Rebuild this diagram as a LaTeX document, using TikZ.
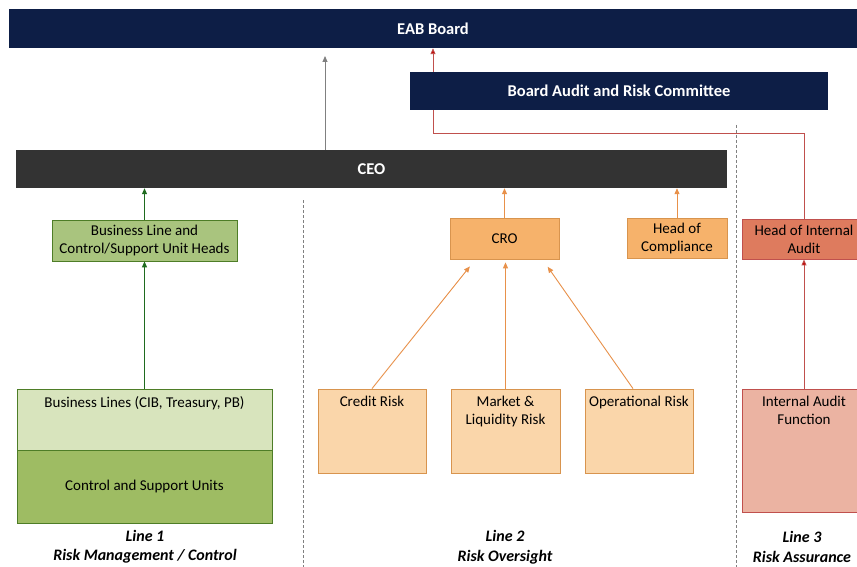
\documentclass[tikz,border=0pt]{standalone}
\usepackage{fontspec}
\setmainfont{Carlito}
\usetikzlibrary{arrows.meta,calc}

\definecolor{navy}{HTML}{0D1E46}
\definecolor{ceogrey}{HTML}{333333}
\definecolor{olive}{HTML}{A9C47E}
\definecolor{olivedark}{HTML}{4E7D27}
\definecolor{lightolive}{HTML}{D8E4BD}
\definecolor{midolive}{HTML}{9EBC63}
\definecolor{greenarr}{HTML}{1F6B1F}
\definecolor{tan}{HTML}{F6B26B}
\definecolor{tanborder}{HTML}{D8944E}
\definecolor{lighttan}{HTML}{FAD6AA}
\definecolor{orangearr}{HTML}{E8914A}
\definecolor{salmon}{HTML}{DE7B5E}
\definecolor{lightsalmon}{HTML}{EBB3A2}
\definecolor{brick}{HTML}{C0504D}
\definecolor{redarr}{HTML}{C00000}

\tikzset{
  topbox/.style={fill=navy,text=white,inner sep=0,font=\bfseries\fontsize{16.5}{19}\selectfont},
  unitbox/.style={draw,line width=0.8pt,inner sep=0,align=center,font=\fontsize{15}{18}\selectfont},
  toptext/.style={label={[anchor=north,yshift=-4pt,align=center,font=\fontsize{15}{18}\selectfont]north:{#1}}},
  linelabel/.style={align=center,font=\bfseries\itshape\fontsize{16}{19.5}\selectfont},
  divider/.style={dashed,dash pattern=on 3pt off 2pt,gray,line width=0.5pt},
  greyarrow/.style={-{Triangle[length=6pt,width=5pt]},gray,line width=0.9pt},
  greenarrow/.style={-{Triangle[length=6pt,width=5pt]},greenarr,line width=0.9pt},
  orangearrow/.style={-{Triangle[length=6pt,width=5pt]},orangearr,line width=0.9pt},
  redarrow/.style={-{Triangle[length=6pt,width=5pt,fill=redarr]},brick,line width=0.9pt}
}

\begin{document}
\begin{tikzpicture}[x=1pt,y=-1pt]
  \clip (0,0) rectangle (857,567);
  \fill[white] (0,0) rectangle (857,567);

%% dividers
  \draw[divider] (303,200) -- (303,567);
  \draw[divider] (736,125) -- (736,567);

%% board and ceo
  \node[topbox,minimum width=848,minimum height=39] (eab) at (433,28.5) {EAB Board};
  \node[topbox,minimum width=418,minimum height=38] (barc) at (619,91) {Board Audit and Risk Committee};
  \node[topbox,fill=ceogrey,minimum width=711,minimum height=38] (ceo) at (371.5,169) {CEO};

%% line 1
  \node[unitbox,fill=olive,draw=olivedark,minimum width=185,minimum height=41] (blh) at (144.5,240.5) {Business Line and\\Control/Support Unit Heads};
  \node[unitbox,fill=lightolive,draw=olivedark,minimum width=255,minimum height=61,toptext={Business Lines (CIB, Treasury, PB)}] (bl) at (144.5,419.5) {};
  \node[unitbox,fill=midolive,draw=olivedark,minimum width=255,minimum height=73] (csu) at (144.5,486.5) {Control and Support Units};
  \node[linelabel] (line1) at (145,546.5) {Line 1\\Risk Management / Control};

%% line 2
  \node[unitbox,fill=tan,draw=tanborder,minimum width=109,minimum height=41] (cro) at (504.5,238.5) {CRO};
  \node[unitbox,fill=tan,draw=tanborder,minimum width=100,minimum height=40] (hoc) at (677,238) {Head of\\Compliance};
  \node[unitbox,fill=lighttan,draw=tanborder,minimum width=108,minimum height=84,toptext={Credit Risk}] (cr) at (372,431) {};
  \node[unitbox,fill=lighttan,draw=tanborder,minimum width=109,minimum height=84,toptext={Market \&\\Liquidity Risk}] (mlr) at (505.5,431) {};
  \node[unitbox,fill=lighttan,draw=tanborder,minimum width=108,minimum height=84,toptext={Operational Risk}] (opr) at (639,431) {};
  \node[linelabel] (line2) at (505,547) {Line 2\\Risk Oversight};

%% line 3
  \node[unitbox,fill=salmon,draw=brick,minimum width=124,minimum height=40] (hia) at (804,239) {Head of Internal\\Audit};
  \node[unitbox,fill=lightsalmon,draw=brick,minimum width=124,minimum height=123,toptext={Internal Audit\\Function}] (iaf) at (804,450.5) {};
  \node[linelabel] (line3) at (802,547) {Line 3\\Risk Assurance};

%% arrows
  \coordinate (ceoup) at (325,56);
  \draw[greyarrow] (ceoup |- ceo.north) -- (ceoup);
  \draw[greenarrow] (blh.north) -- (blh.north |- ceo.south);
  \draw[greenarrow] (bl.north) -- (blh.south);
  \draw[orangearrow] (cro.north) -- (cro.north |- ceo.south);
  \draw[orangearrow] (hoc.north) -- (hoc.north |- ceo.south);
  \draw[orangearrow,shorten >=9pt] (cr.north) -- ($(cro.south)+(-29,0)$);
  \draw[orangearrow,shorten >=3pt] (mlr.north) -- (mlr.north |- cro.south);
  \draw[orangearrow,shorten >=9pt] ($(opr.north)+(-6,0)$) -- ($(cro.south)+(38,0)$);
  \draw[redarrow] (iaf.north) -- (hia.south);
  \coordinate (bend) at (433,133);
  \draw[brick,line width=0.9pt] (hia.north) |- (bend) -- (bend |- barc.south);
  \draw[redarrow] (bend |- barc.north) -- (bend |- eab.south);
\end{tikzpicture}
\end{document}
